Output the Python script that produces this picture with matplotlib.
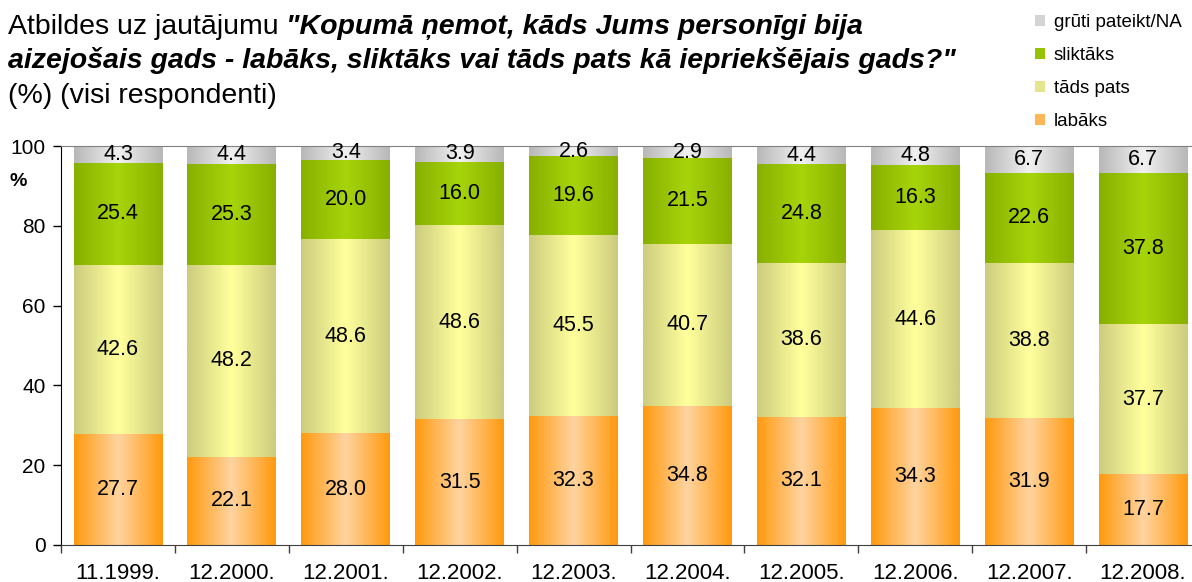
import numpy as np
import matplotlib
matplotlib.use("Agg")
import matplotlib.pyplot as plt
from matplotlib.colors import LinearSegmentedColormap
from matplotlib.patches import Patch

plt.rcParams["font.family"] = ["Liberation Sans", "DejaVu Sans"]

periods = ["11.1999.", "12.2000.", "12.2001.", "12.2002.", "12.2003.",
           "12.2004.", "12.2005.", "12.2006.", "12.2007.", "12.2008."]
labaks = [27.7, 22.1, 28.0, 31.5, 32.3, 34.8, 32.1, 34.3, 31.9, 17.7]
tads_pats = [42.6, 48.2, 48.6, 48.6, 45.5, 40.7, 38.6, 44.6, 38.8, 37.7]
slliktaks = [25.4, 25.3, 20.0, 16.0, 19.6, 21.5, 24.8, 16.3, 22.6, 37.8]
gruti = [4.3, 4.4, 3.4, 3.9, 2.6, 2.9, 4.4, 4.8, 6.7, 6.7]

series = [
    ("labāks", labaks, "#ff9a0f", "#ffd39e"),
    ("tāds pats", tads_pats, "#cccc7e", "#ffff9c"),
    ("sliktāks", slliktaks, "#88b000", "#a6d40a"),
    ("grūti pateikt/NA", gruti, "#b8b8b8", "#f0f0f0"),
]

fig = plt.figure(figsize=(11.92, 5.82), dpi=100)
ax = fig.add_axes([61 / 1192, 1 - 545 / 582, (1200 - 61) / 1192, (545 - 146) / 582])

x = np.arange(len(periods))
width = 0.78
grad = np.abs(np.linspace(-1, 1, 64)).reshape(1, -1)
bottom = np.zeros(len(periods))
handles = []
for name, vals, edge, centre in series:
    vals = np.array(vals)
    cmap = LinearSegmentedColormap.from_list(name, [centre, edge])
    bars = ax.bar(x, vals, width, bottom=bottom, facecolor="none",
                  edgecolor="none", zorder=3)
    for b, v in zip(bars, vals):
        x0, y0 = b.get_x(), b.get_y()
        ax.imshow(grad, extent=[x0, x0 + b.get_width(), y0, y0 + b.get_height()],
                  aspect="auto", cmap=cmap, zorder=2, interpolation="bilinear")
        ax.text(x0 + b.get_width() / 2, y0 + b.get_height() / 2, f"{v:.1f}",
                ha="center", va="center", fontsize=15.5, zorder=4)
    bottom = bottom + vals
    handles.append(Patch(facecolor=cmap(0.5), edgecolor="none", label=name))

ax.set_xlim(-0.5, len(periods) - 0.5)
ax.set_ylim(0, 100)
ax.set_yticks(np.arange(0, 101, 20))
ax.tick_params(axis="y", labelsize=15, length=6, width=1, pad=5)
ax.set_xticks(np.arange(len(periods) + 1) - 0.5)
ax.set_xticklabels([])
ax.set_xticks(x, minor=True)
ax.set_xticklabels(periods, minor=True, fontsize=16)
ax.tick_params(axis="x", which="major", length=6, width=1, color="#404040")
ax.tick_params(axis="x", which="minor", length=0, pad=13)
ax.spines["right"].set_visible(False)
ax.spines["top"].set_color("#808080")
ax.spines["bottom"].set_color("#404040")

fig.text(18 / 1192, 1 - 182 / 582, "%", fontsize=14, fontweight="bold",
         ha="center", va="center")

# title, line 1 mixes normal and bold italic
t1 = fig.text(8 / 1192, 1 - 34 / 582, "Atbildes uz jautājumu ", fontsize=20.5,
              va="baseline")
fig.canvas.draw()
bb = t1.get_window_extent(fig.canvas.get_renderer())
fig.text(bb.x1 / fig.bbox.width, 1 - 34 / 582,
         "\"Kopumā ņemot, kāds Jums personīgi bija", fontsize=20.5,
         fontweight="bold", fontstyle="italic", va="baseline")
fig.text(8 / 1192, 1 - 68 / 582,
         "aizejošais gads - labāks, sliktāks vai tāds pats kā iepriekšējais gads?\"",
         fontsize=20.5, fontweight="bold", fontstyle="italic", va="baseline")
fig.text(8 / 1192, 1 - 103 / 582, "(%) (visi respondenti)", fontsize=20.5,
         va="baseline")

fig.legend(handles=handles[::-1], loc="upper left",
           bbox_to_anchor=(1022 / 1192, 1 - 1 / 582), frameon=False,
           fontsize=13.5, handlelength=0.55, handleheight=0.55,
           handletextpad=0.45, labelspacing=0.85, borderpad=0.2)

fig.savefig("out.png", dpi=100)
